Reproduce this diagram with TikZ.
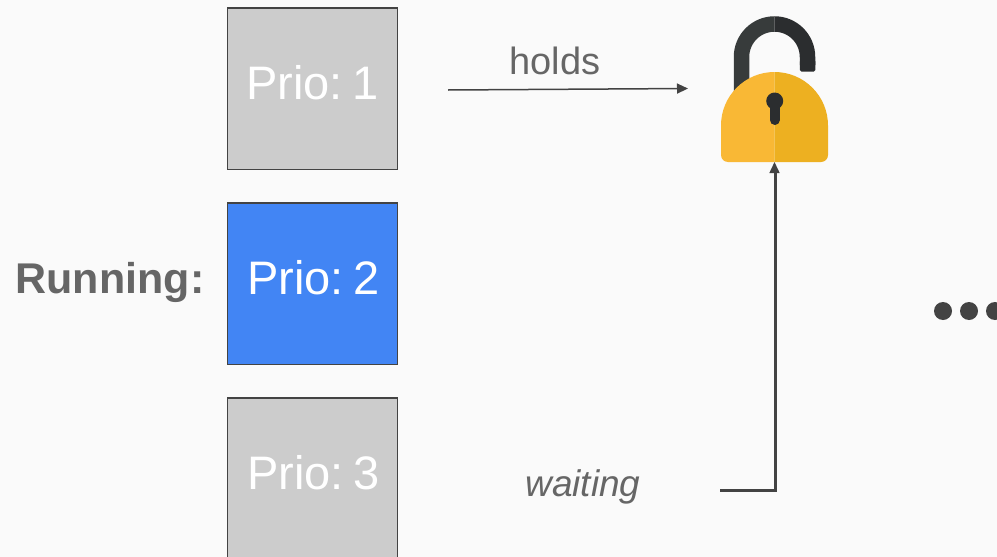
\documentclass[tikz,border=0pt]{standalone}
\usepackage{fontspec}
\setmainfont{Liberation Sans}
\usetikzlibrary{arrows.meta}
\definecolor{bg}{HTML}{FAFAFA}
\definecolor{edge}{HTML}{434343}
\definecolor{txt}{HTML}{666666}
\definecolor{idle}{HTML}{CCCCCC}
\definecolor{run}{HTML}{4285F4}
\definecolor{lockL}{HTML}{F9B835}
\definecolor{lockR}{HTML}{EDB021}
\definecolor{shL}{HTML}{373B3B}
\definecolor{shR}{HTML}{2B2D2F}
\tikzset{
  prio/.style={draw=edge,line width=1.3pt,minimum width=169.5pt,minimum height=161.5pt,inner sep=0pt,anchor=north west},
  priotext/.style={text=white,inner sep=0pt,font=\fontsize{47}{47}\selectfont},
  lbl/.style={text=txt,inner sep=0pt},
  tipa/.style={-{Triangle[length=11pt,width=10pt]},color=edge},
  dotc/.style={fill=edge,draw=none,circle,minimum size=18pt,inner sep=0pt}
}
\newcommand{\domeshape}{(721,125.5) arc[start angle=180,end angle=360,radius=53.5] -- (828,155) arc[start angle=0,end angle=90,radius=7] -- (728,162) arc[start angle=90,end angle=180,radius=7] -- cycle}
\begin{document}
\begin{tikzpicture}[x=1pt,y=-1pt]
\path[use as bounding box,fill=bg] (0,0) rectangle (997,557);
\begin{scope}
\clip (0,0) rectangle (997,557);
\node[prio,fill=idle] (p1) at (227,7.2) {};
\node[prio,fill=run] (p2) at (227,202.2) {};
\node[prio,fill=idle] (p3) at (227,397.2) {};
\node[priotext] (t1) at (312.5,83) {Prio:\kern-3pt\ 1};
\node[priotext] (t2) at (313.5,278) {Prio:\kern-3pt\ 2};
\node[priotext] (t3) at (313.5,473) {Prio:\kern-3pt\ 3};
% shackle
\begin{scope}
\clip (700,0) rectangle (774.5,130);
\draw[shL,line width=15.5pt] (741.5,100) -- (741.5,57) arc[start angle=180,end angle=360,radius=33];
\end{scope}
\begin{scope}
\clip (774.5,0) rectangle (840,130);
\draw[shR,line width=15.5pt] (741.5,57) arc[start angle=180,end angle=360,radius=33] -- (807.5,65);
\fill[shR,rounded corners=1.5pt] (799.75,60) rectangle (815.25,71.5);
\end{scope}
% body
\begin{scope}
\clip (700,60) rectangle (774.5,170);
\fill[lockL] \domeshape;
\end{scope}
\begin{scope}
\clip (774.5,60) rectangle (840,170);
\fill[lockR] \domeshape;
\end{scope}
\fill[shR] (774.7,101) circle[radius=8.5];
\draw[shR,line width=10pt,line cap=round] (774.7,103) -- (774.7,120);
\coordinate (lockbase) at (774.5,162);
\coordinate (holdsA) at (448,90);
\coordinate (holdsB) at (688,88.5);
\coordinate (waitA) at (720,490);
\draw[tipa,line width=1.5pt] (holdsA) -- (holdsB);
\draw[edge,line width=3pt] (waitA) -- (776.5,490);
\draw[edge,line width=3pt] (775,491.5) -- (775,170);
\draw[tipa,line width=1.5pt] (774.5,175) -- (lockbase);
\node[lbl,font=\fontsize{38}{38}\selectfont,anchor=center] (holds) at (555,61) {holds};
\node[lbl,font=\fontsize{37}{37}\selectfont\itshape,anchor=center] (waiting) at (583,487) {waiting};
\node[lbl,font=\fontsize{43}{43}\selectfont\bfseries,anchor=east] (running) at (204.5,282) {Running:};
\node[dotc] (d1) at (943,311) {};
\node[dotc] (d2) at (969,311) {};
\node[dotc] (d3) at (995,311) {};
\end{scope}
\end{tikzpicture}
\end{document}
